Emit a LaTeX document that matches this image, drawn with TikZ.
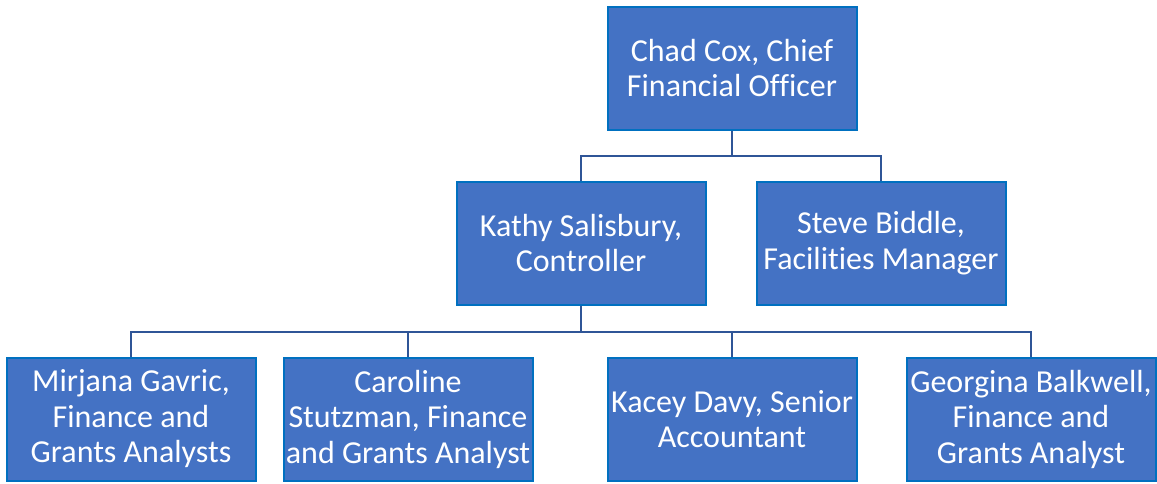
\documentclass[tikz,border=0pt]{standalone}
\usepackage{fontspec}
\setmainfont{Carlito}[Ligatures=NoCommon]
\usepackage{xcolor}
\definecolor{boxfill}{HTML}{4472C4}
\definecolor{boxedge}{HTML}{0070C0}
\definecolor{linkcol}{HTML}{2F5597}

\tikzset{
  person/.style={draw=boxedge, line width=2pt, fill=boxfill, text=white,
    minimum width=249pt, minimum height=123pt, inner sep=0pt, align=center,
    font=\fontsize{32}{35.5}\selectfont},
  link/.style={draw=linkcol, line width=2.2pt}
}

\begin{document}
\begin{tikzpicture}[x=1pt, y=-1pt]
\useasboundingbox (0,0) rectangle (1157,483);

\node[person] (cfo) at (732,68) {Chad Cox, Chief\\Financial Officer};

\node[person] (kathy) at (581,243) {Kathy Salisbury,\\Controller};
\node[person] (steve) at (881,243) {Steve Biddle,\\Facilities Manager};

\node[person] (mirjana) at (131,419) {Mirjana Gavric,\\Finance and\\Grants Analysts};
\node[person] (caroline) at (408,419) {Caroline\\Stutzman, Finance\\and Grants Analyst};
\node[person] (kacey) at (732,419) {Kacey Davy, Senior\\Accountant};
\node[person] (georgina) at (1031,419) {Georgina Balkwell,\\Finance and\\Grants Analyst};

\coordinate (bus1) at (732,156);
\coordinate (bus2) at (581,332);

\draw[link] (cfo.south) -- (bus1);
\draw[link] (bus1) -| (kathy.north);
\draw[link] (bus1) -| (steve.north);

\draw[link] (kathy.south) -- (bus2);
\foreach \who in {mirjana,caroline,kacey,georgina}
  \draw[link] (bus2) -| (\who.north);

\end{tikzpicture}
\end{document}
